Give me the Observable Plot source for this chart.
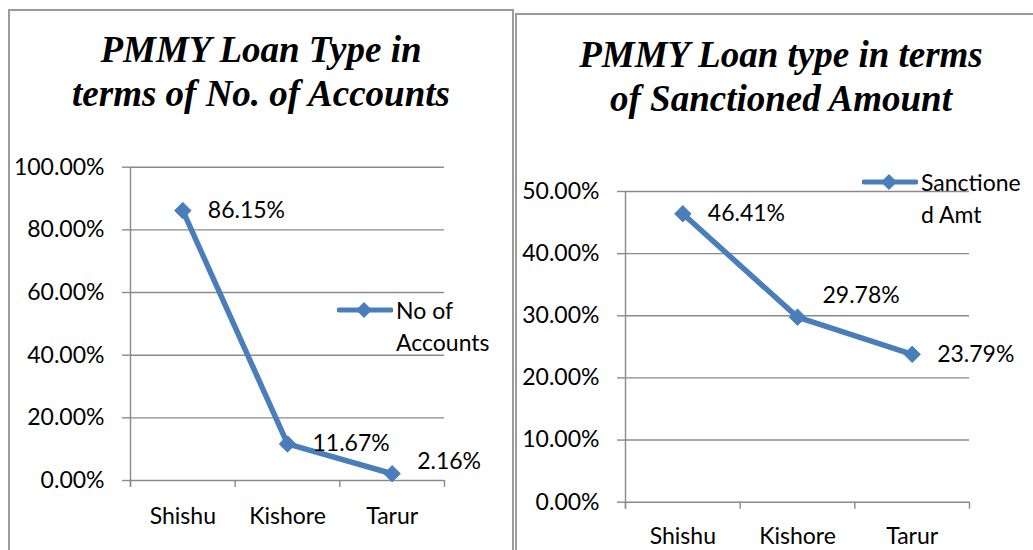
<!DOCTYPE html>
<html>
<head>
<meta charset="utf-8">
<script src="https://cdn.jsdelivr.net/npm/d3@7"></script>
<script src="https://cdn.jsdelivr.net/npm/@observablehq/plot@0.6"></script>
<style>
  html, body { margin: 0; padding: 0; background: #fff; }
  #root { position: relative; width: 1033px; height: 550px; overflow: hidden; background: #fff; font-family: Lato, sans-serif; }
  .panel { position: absolute; box-sizing: border-box; border: 2px solid #9b9b9b; background: #fff; }
  .title { position: absolute; text-align: center; font-family: "Liberation Serif", "Times New Roman", serif; font-weight: bold; font-style: italic; font-size: 37px; line-height: 44px; color: #000; }
  .chart { position: absolute; top: 0; }
  .legend { position: absolute; font-family: Lato, sans-serif; font-size: 23px; color: #000; line-height: 32px; }
  .legend svg { position: absolute; }
</style>
</head>
<body>
<div id="root">
  <div class="panel" style="left:8px;top:9px;width:506px;height:620px"></div>
  <div class="panel" style="left:515px;top:13px;width:600px;height:620px"></div>
  <div class="title" style="left:8px;top:28px;width:506px">PMMY Loan Type in<br>terms of No. of Accounts</div>
  <div class="title" style="left:515px;top:33px;width:532px">PMMY Loan type in terms<br>of Sanctioned Amount</div>
  <div id="left" class="chart" style="left:0px"></div>
  <div id="right" class="chart" style="left:515px"></div>
  <div id="legL" class="legend" style="left:337px;top:294px"></div>
  <div id="legR" class="legend" style="left:862px;top:166px"></div>
</div>
<script>
const categories = ["Shishu", "Kishore", "Tarur"];
const accountsShare = [0.8615, 0.1167, 0.0216];
const amountShare = [0.4641, 0.2978, 0.2379];
const accountsTicks = [0, 0.2, 0.4, 0.6, 0.8, 1.0];
const amountTicks = [0, 0.1, 0.2, 0.3, 0.4, 0.5];
const seriesNames = ["No of Accounts", "Sanctioned Amt"];

const BLUE = "#4A7EBB";
const GRID = "#8a8a8a";
const pct = d3.format(".2%");

function makeChart({values, ticks, yMax, width, height, mL, mR, mT, mB, labelPad, shiftIndex, shiftDy}) {
  const data = categories.map((c, i) => ({i, c, v: values[i]}));
  return Plot.plot({
    width, height,
    marginLeft: mL, marginRight: mR, marginTop: mT, marginBottom: mB,
    style: {fontFamily: "Lato, sans-serif", fontSize: "23px", color: "#000", background: "transparent", overflow: "visible"},
    x: {type: "linear", domain: [-0.5, categories.length - 0.5], axis: null},
    y: {domain: [0, yMax], axis: null},
    marks: [
      Plot.ruleY(ticks, {stroke: GRID, strokeWidth: 1.4}),
      Plot.ruleX([-0.5], {stroke: GRID, strokeWidth: 1.4, insetBottom: -7}),
      Plot.axisY({ticks, tickFormat: pct, tickSize: 8, tickPadding: 18, stroke: GRID, strokeWidth: 1.4, fill: "#000", label: null}),
      Plot.axisX({ticks: d3.range(categories.length + 1).map(k => k - 0.5), tickFormat: () => "", tickSize: 7, stroke: GRID, strokeWidth: 1.4, label: null}),
      Plot.axisX({ticks: d3.range(categories.length), tickFormat: k => categories[k], tickSize: 0, tickPadding: labelPad, fill: "#000", label: null}),
      Plot.line(data, {x: "i", y: "v", stroke: BLUE, strokeWidth: 5.5, strokeLinejoin: "round"}),
      Plot.dot(data, {x: "i", y: "v", symbol: "diamond2", r: 7.4, fill: BLUE, stroke: BLUE, strokeWidth: 1}),
      Plot.text(data.filter(d => d.i !== shiftIndex), {x: "i", y: "v", text: d => pct(d.v), textAnchor: "start", dx: 25, fill: "#000"}),
      Plot.text(data.filter(d => d.i === shiftIndex), {x: "i", y: "v", text: d => pct(d.v), textAnchor: "start", dx: 25, dy: shiftDy, fill: "#000"})
    ]
  });
}

document.getElementById("left").appendChild(makeChart({
  values: accountsShare, ticks: accountsTicks, yMax: 1.0,
  width: 513, height: 550, mL: 130, mR: 69, mT: 166.7, mB: 70,
  labelPad: 27, shiftIndex: 2, shiftDy: -12
}));
document.getElementById("right").appendChild(makeChart({
  values: amountShare, ticks: amountTicks, yMax: 0.5,
  width: 518, height: 550, mL: 110, mR: 64, mT: 191, mB: 48.3,
  labelPad: 25, shiftIndex: 1, shiftDy: -22
}));

function legend(el, lines) {
  const ns = "http://www.w3.org/2000/svg";
  const svg = document.createElementNS(ns, "svg");
  svg.setAttribute("width", 56); svg.setAttribute("height", 32);
  svg.style.left = "0px"; svg.style.top = "0px";
  const ln = document.createElementNS(ns, "line");
  ln.setAttribute("x1", 2); ln.setAttribute("x2", 54); ln.setAttribute("y1", 16); ln.setAttribute("y2", 16);
  ln.setAttribute("stroke", BLUE); ln.setAttribute("stroke-width", 5); ln.setAttribute("stroke-linecap", "round");
  svg.appendChild(ln);
  const dm = document.createElementNS(ns, "path");
  dm.setAttribute("d", "M27,8L35,16L27,24L19,16Z");
  dm.setAttribute("fill", BLUE);
  svg.appendChild(dm);
  el.appendChild(svg);
  const txt = document.createElement("div");
  txt.style.position = "absolute"; txt.style.left = "59px"; txt.style.top = "0px"; txt.style.whiteSpace = "nowrap";
  txt.innerHTML = lines.join("<br>");
  el.appendChild(txt);
}
legend(document.getElementById("legL"), ["No of", "Accounts"]);
legend(document.getElementById("legR"), ["Sanctione", "d Amt"]);
</script>
</body>
</html>
